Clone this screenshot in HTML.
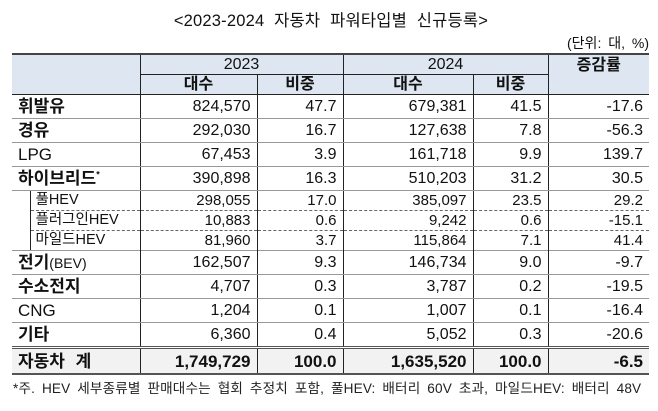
<!DOCTYPE html>
<html><head><meta charset="utf-8"><style>
body{margin:0;width:658px;height:411px;background:#fff;font-family:"Liberation Sans","Noto Sans CJK KR",sans-serif;color:#111;position:relative;overflow:hidden}
.title{position:absolute;left:0;width:662px;top:7px;text-align:center;font-size:16.5px;letter-spacing:0.2px;word-spacing:5px}
.unit{position:absolute;right:9px;top:33px;font-size:14px;word-spacing:3px}
table{position:absolute;left:12px;top:53px;border-collapse:collapse;table-layout:fixed;font-size:16px}
td{padding:0 6px;border-top:1px solid #999;border-bottom:1px solid #999;border-left:1px solid #222;border-right:1px solid #222;text-align:right;white-space:nowrap;overflow:hidden;line-height:1}
td.l{text-align:left;font-weight:bold;font-size:17px;padding-left:6px;border-left:none}
td.last{border-right:none}
tr.h td{background:#dde6f1;text-align:center;border-color:#222}
tr.h td.first{border-left:none}
tr.d td{height:23px}
tr.s td{height:19px;font-size:15px;border-top:1px dashed #666;border-bottom:1px dashed #666}
tr.s td.sl{font-weight:normal;font-size:14.5px;text-align:left;padding-left:5px}
tr.t td{height:24px;background:#f2f2f2;font-weight:bold;font-size:17px;border-top:3px double #555;border-bottom:2px solid #555}
tr.top td{border-top:2px solid #444}
.note{position:absolute;left:13px;top:377px;font-size:13.6px;color:#222;white-space:nowrap;letter-spacing:0.15px;word-spacing:3px}
</style></head><body>
<div class="title">&lt;2023-2024 자동차 파워타입별 신규등록&gt;</div>
<div class="unit">(단위: 대, %)</div>
<table>
<colgroup><col style="width:18px"><col style="width:110px"><col style="width:117px"><col style="width:86px"><col style="width:130px"><col style="width:75px"><col style="width:101px"></colgroup>
<tr class="h top"><td class="first" colspan="2" rowspan="2" style="height:39px"></td><td colspan="2" style="height:19px">2023</td><td colspan="2">2024</td><td class="last" rowspan="2" style="vertical-align:top;padding-top:3px;font-weight:bold;font-size:16px">증감률</td></tr>
<tr class="h"><td style="height:19px;font-weight:bold">대수</td><td style="font-weight:bold">비중</td><td style="font-weight:bold">대수</td><td style="font-weight:bold">비중</td></tr>
<tr class="d"><td class="l" colspan="2">휘발유</td><td>824,570</td><td>47.7</td><td>679,381</td><td>41.5</td><td class="last">-17.6</td></tr>
<tr class="d"><td class="l" colspan="2">경유</td><td>292,030</td><td>16.7</td><td>127,638</td><td>7.8</td><td class="last">-56.3</td></tr>
<tr class="d"><td class="l" colspan="2" style="font-weight:normal">LPG</td><td>67,453</td><td>3.9</td><td>161,718</td><td>9.9</td><td class="last">139.7</td></tr>
<tr class="d"><td class="l" colspan="2">하이브리드<sup style="font-size:9px">*</sup></td><td>390,898</td><td>16.3</td><td>510,203</td><td>31.2</td><td class="last">30.5</td></tr>
<tr class="s"><td rowspan="3" style="border:none;border-right:1px solid #222;border-top:1px solid #999;border-bottom:1px solid #999"></td><td class="sl">풀HEV</td><td>298,055</td><td>17.0</td><td>385,097</td><td>23.5</td><td class="last">29.2</td></tr>
<tr class="s"><td class="sl">플러그인HEV</td><td>10,883</td><td>0.6</td><td>9,242</td><td>0.6</td><td class="last">-15.1</td></tr>
<tr class="s"><td class="sl">마일드HEV</td><td>81,960</td><td>3.7</td><td>115,864</td><td>7.1</td><td class="last">41.4</td></tr>
<tr class="d"><td class="l" colspan="2">전기<span style="font-weight:normal;font-size:14px">(BEV)</span></td><td>162,507</td><td>9.3</td><td>146,734</td><td>9.0</td><td class="last">-9.7</td></tr>
<tr class="d"><td class="l" colspan="2">수소전지</td><td>4,707</td><td>0.3</td><td>3,787</td><td>0.2</td><td class="last">-19.5</td></tr>
<tr class="d"><td class="l" colspan="2" style="font-weight:normal">CNG</td><td>1,204</td><td>0.1</td><td>1,007</td><td>0.1</td><td class="last">-16.4</td></tr>
<tr class="d"><td class="l" colspan="2">기타</td><td>6,360</td><td>0.4</td><td>5,052</td><td>0.3</td><td class="last">-20.6</td></tr>
<tr class="t"><td class="l" colspan="2" style="word-spacing:6px">자동차 계</td><td>1,749,729</td><td>100.0</td><td>1,635,520</td><td>100.0</td><td class="last">-6.5</td></tr>
</table>
<div class="note">*주. HEV 세부종류별 판매대수는 협회 추정치 포함, 풀HEV: 배터리 60V 초과, 마일드HEV: 배터리 48V</div>
</body></html>
